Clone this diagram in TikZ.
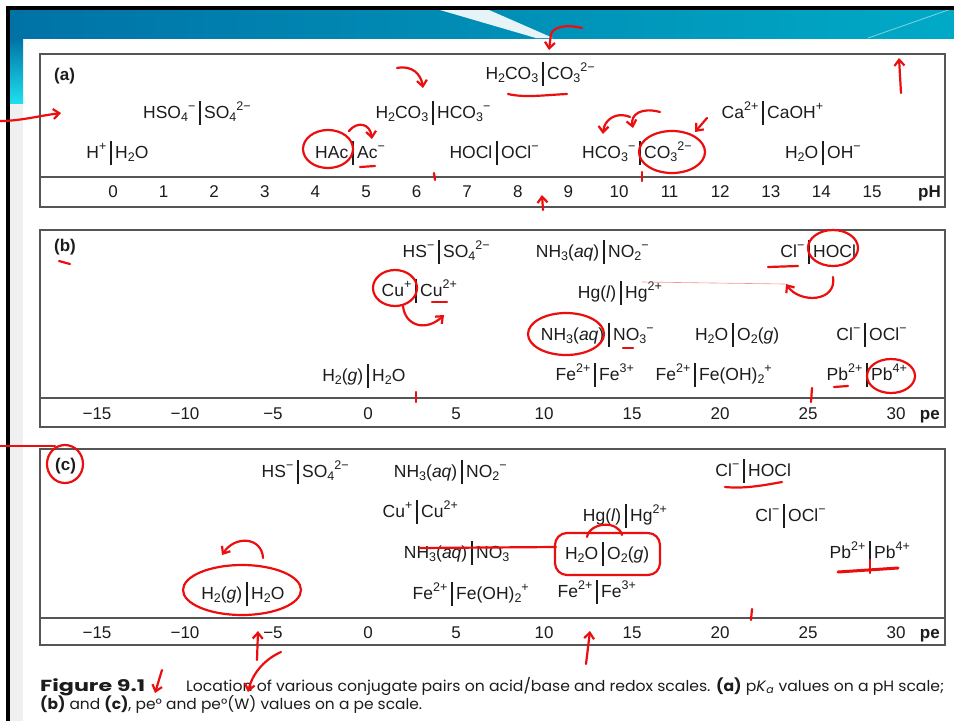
\documentclass[tikz,border=0pt]{standalone}
\usepackage{fontspec}
\setmainfont{Liberation Sans}
\newfontfamily\capfont{Poppins}
\usepackage{graphicx}
\usetikzlibrary{arrows.meta}
\definecolor{slidedark}{RGB}{0,114,166}
\definecolor{slidelight}{RGB}{0,170,198}
\definecolor{slidecyan}{RGB}{30,225,240}
\definecolor{framegray}{RGB}{85,85,85}
\definecolor{inkblack}{RGB}{28,28,28}
\definecolor{penred}{RGB}{236,14,14}

% raised and lowered indices for the species
\newcommand{\up}[1]{\raisebox{0.42em}{\fontsize{12.5}{13}\selectfont #1}}
\newcommand{\dn}[1]{\raisebox{-0.22em}{\fontsize{12.5}{13}\selectfont #1}}

% conjugate pair: name, bar x, baseline y, left species, right species
\newcommand{\cpair}[5]{%
  \node[pairtxt, anchor=base east] (#1-l) at (#2-4.5,#3) {#4};
  \node[pairtxt, anchor=base west] (#1-r) at (#2+4,#3) {#5};
  \draw[pairbar] (#2,#3-17) -- (#2,#3+7);
}

\begin{document}
\begin{tikzpicture}[
    x=1pt, y=-1pt,
    pairtxt/.style={inner sep=0pt, text=inkblack, font=\fontsize{17.5}{19}\selectfont},
    pairbar/.style={draw=inkblack, line width=1.4pt},
    ticknum/.style={inner sep=0pt, anchor=base, text=inkblack, font=\fontsize{17}{19}\selectfont},
    axislbl/.style={inner sep=0pt, anchor=base east, text=inkblack, font=\bfseries\fontsize{17}{19}\selectfont},
    panellbl/.style={inner sep=0pt, anchor=base west, text=inkblack, font=\bfseries\fontsize{17}{19}\selectfont},
    panelframe/.style={draw=framegray, line width=1.3pt},
    capbold/.style={inner sep=0pt, anchor=base west, text=inkblack, font=\capfont\bfseries\fontsize{16}{18}\selectfont},
    captxt/.style={inner sep=0pt, anchor=base west, text=inkblack, font=\capfont\fontsize{15}{18}\selectfont},
    pen/.style={draw=penred, line width=2.2pt, line cap=round, line join=round},
    penarrow/.style={pen, -{Straight Barb[length=6pt, width=10pt]}}
  ]
  \useasboundingbox (0,0) rectangle (954,721);
  \fill[white] (0,0) rectangle (954,721);

  % slide chrome
  \fill[left color=slidedark, right color=slidelight] (10,10) rectangle (954,38);
  \fill[white, opacity=0.9] (440,10) -- (489,10) -- (553,38) -- (536,38) -- cycle;
  \draw[white, opacity=0.5, line width=0.8pt] (868,38) -- (954,8);
  \fill[top color=slidedark, bottom color=slidecyan] (10,38) rectangle (23,104);
  \fill[black!6] (10,104) rectangle (23,721);
  \draw[black, line width=4pt] (8,721) -- (8,8) -- (954,8);

  % (a) pK_a values on the pH scale
  \draw[panelframe] (40,54) rectangle (945,207);
  \draw[panelframe] (40,177) -- (945,177);
  \node[panellbl] (lbla) at (54,80) {(a)};
  \foreach \v in {0,...,15}
    \node[ticknum] (ph\v) at ({113+50.6*\v},197) {\v};
  \node[axislbl] (phlbl) at (941,197) {pH};

  \cpair{a-h2co3b}{543}{79}{H\dn{2}CO\dn{3}}{CO\dn{3}\up{2−}}
  \cpair{a-hso4}{200}{118}{HSO\dn{4}\up{−}}{SO\dn{4}\up{2−}}
  \cpair{a-h2co3}{433}{118}{H\dn{2}CO\dn{3}}{HCO\dn{3}\up{−}}
  \cpair{a-ca}{763}{118}{Ca\up{2+}}{CaOH\up{+}}
  \cpair{a-h}{111}{158}{H\up{+}}{H\dn{2}O}
  \cpair{a-hac}{353}{158}{HAc}{Ac\up{−}}
  \cpair{a-hocl}{497}{158}{HOCl}{OCl\up{−}}
  \cpair{a-hco3}{640}{158}{HCO\dn{3}\up{−}}{CO\dn{3}\up{2−}}
  \cpair{a-oh}{823}{158}{H\dn{2}O}{OH\up{−}}

  % (b) pe values
  \draw[panelframe] (40,230) rectangle (945,427);
  \draw[panelframe] (40,398) -- (945,398);
  \node[panellbl] (lblb) at (54,251) {(b)};
  \foreach \v in {15,10,5}
    \node[ticknum] (b-m\v) at ({368-17.6*\v-7},419) {−\v};
  \foreach \v in {0,5,...,30}
    \node[ticknum] (b-p\v) at ({368+17.6*\v},419) {\v};
  \node[axislbl] (pelblb) at (940,419) {pe};

  \cpair{b-hs}{439}{257}{HS\up{−}}{SO\dn{4}\up{2−}}
  \cpair{b-no2}{604}{257}{NH\dn{3}(\textit{aq})}{NO\dn{2}\up{−}}
  \cpair{b-hocl}{809}{257}{Cl\up{−}}{HOCl}
  \cpair{b-cu}{416}{296}{Cu\up{+}}{Cu\up{2+}}
  \cpair{b-hg}{621}{298}{Hg(\textit{l})}{Hg\up{2+}}
  \cpair{b-no3}{609}{340}{NH\dn{3}(\textit{aq})}{NO\dn{3}\up{−}}
  \cpair{b-o2}{733}{340}{H\dn{2}O}{O\dn{2}(\textit{g})}
  \cpair{b-ocl}{865}{340}{Cl\up{−}}{OCl\up{−}}
  \cpair{b-h2}{368}{381}{H\dn{2}(\textit{g})}{H\dn{2}O}
  \cpair{b-fe3}{595}{380}{Fe\up{2+}}{Fe\up{3+}}
  \cpair{b-feoh}{695}{380}{Fe\up{2+}}{Fe(OH)\dn{2}\up{+}}
  \cpair{b-pb}{867}{380}{Pb\up{2+}}{Pb\up{4+}}

  % (c) pe(W) values
  \draw[panelframe] (40,449) rectangle (945,645);
  \draw[panelframe] (40,618) -- (945,618);
  \node[panellbl] (lblc) at (55,470) {(c)};
  \foreach \v in {15,10,5}
    \node[ticknum] (c-m\v) at ({368-17.6*\v-7},638) {−\v};
  \foreach \v in {0,5,...,30}
    \node[ticknum] (c-p\v) at ({368+17.6*\v},638) {\v};
  \node[axislbl] (pelblc) at (940,638) {pe};

  \cpair{c-hs}{298}{477}{HS\up{−}}{SO\dn{4}\up{2−}}
  \cpair{c-no2}{462}{477}{NH\dn{3}(\textit{aq})}{NO\dn{2}\up{−}}
  \cpair{c-hocl}{744}{476}{Cl\up{−}}{HOCl}
  \cpair{c-cu}{417}{517}{Cu\up{+}}{Cu\up{2+}}
  \cpair{c-hg}{626}{521}{Hg(\textit{l})}{Hg\up{2+}}
  \cpair{c-ocl}{784}{521}{Cl\up{−}}{OCl\up{−}}
  \cpair{c-no3}{472}{558}{NH\dn{3}(\textit{aq})}{NO\dn{3}}
  \cpair{c-o2}{603}{559}{H\dn{2}O}{O\dn{2}(\textit{g})}
  \cpair{c-pb}{870}{558}{Pb\up{2+}}{Pb\up{4+}}
  \cpair{c-h2}{247}{599}{H\dn{2}(\textit{g})}{H\dn{2}O}
  \cpair{c-feoh}{452}{599}{Fe\up{2+}}{Fe(OH)\dn{2}\up{+}}
  \cpair{c-fe3}{597}{597}{Fe\up{2+}}{Fe\up{3+}}

  % caption
  \node[capbold] (figno) at (40,691) {\resizebox{105pt}{\height}{Figure 9.1}};
  \node[captxt] (capa) at (186,691) {\resizebox{758pt}{\height}{Location of various conjugate pairs on acid/base and redox scales. \textbf{(a)} p\textit{K}\textsubscript{\textit{a}} values on a pH scale;}};
  \node[captxt] (capb) at (40,709) {\resizebox{382pt}{\height}{\textbf{(b)} and \textbf{(c)}, pe° and pe°(W) values on a pe scale.}};

  % red pen marks
  \draw[penarrow] (582,28) .. controls (565,24) and (554,27) .. (551,34) -- (549,50);
  \draw[penarrow] (901,93) -- (899,58);
  \draw[penarrow] (0,121) .. controls (20,121) and (38,116) .. (61,113);
  \draw[penarrow] (397,68) .. controls (412,65) and (421,74) .. (423,88);
  \draw[pen] (328,149) ellipse [x radius=25pt, y radius=19pt];
  \draw[penarrow] (349,131) .. controls (357,121) and (370,123) .. (372,139);
  \draw[pen] (360,167) -- (375,166);
  \draw[pen] (508,94) .. controls (525,98) and (545,95) .. (567,94);
  \draw[pen] (434,173) -- (435,180);
  \draw[penarrow] (543,210) -- (542,195);
  \draw[penarrow] (660,112) .. controls (642,107) and (630,114) .. (633,128);
  \draw[penarrow] (630,117) .. controls (616,111) and (604,120) .. (603,134);
  \draw[pen] (672,152) ellipse [x radius=33pt, y radius=21pt];
  \draw[penarrow] (707,118) -- (695,132);
  \draw[pen] (642,172) -- (642,181);
  \draw[pen] (59,261) -- (70,264);
  \draw[pen] (395,288) ellipse [x radius=22pt, y radius=18pt];
  \draw[penarrow] (403,306) .. controls (405,326) and (426,332) .. (444,315);
  \draw[pen] (432,302) -- (447,302);
  \draw[pen] (416,392) -- (416,402);
  \draw[pen] (768,267) -- (798,266);
  \draw[pen] (833,248) ellipse [x radius=25pt, y radius=18pt];
  \draw[penred!45, line width=0.6pt] (642,282) -- (785,284);
  \draw[penarrow] (833,277) .. controls (837,302) and (800,304) .. (786,284);
  \draw[pen] (566,334) ellipse [x radius=38pt, y radius=21pt];
  \draw[pen] (623,348) -- (633,348);
  \draw[pen] (812,388) -- (811,402);
  \draw[pen] (834,387) -- (848,386);
  \draw[pen] (891,376) ellipse [x radius=24pt, y radius=17pt];
  \draw[pen] (0,446) -- (55,446);
  \draw[pen] (65,464) ellipse [x radius=18pt, y radius=19pt];
  \draw[pen] (242,590) ellipse [x radius=59pt, y radius=25pt];
  \draw[penarrow] (263,558) .. controls (262,537) and (235,535) .. (222,555);
  \draw[penarrow] (257,660) -- (258,631);
  \draw[penarrow] (281,652) .. controls (263,660) and (252,675) .. (248,692);
  \draw[penarrow] (162,670) -- (155,693);
  \draw[penarrow] (586,664) -- (590,631);
  \draw[pen] (752,609) -- (751,620);
  \draw[pen] (420,548) -- (556,547);
  \draw[pen, rounded corners=12pt] (555,533) rectangle (660,575);
  \draw[pen] (587,537) .. controls (590,522) and (618,520) .. (622,535);
  \draw[pen] (725,487) .. controls (745,489) and (765,485) .. (782,482);
  \draw[pen, line width=3pt] (838,572) -- (898,568);
  \draw[pen] (870,560) -- (870,573);
\end{tikzpicture}
\end{document}
